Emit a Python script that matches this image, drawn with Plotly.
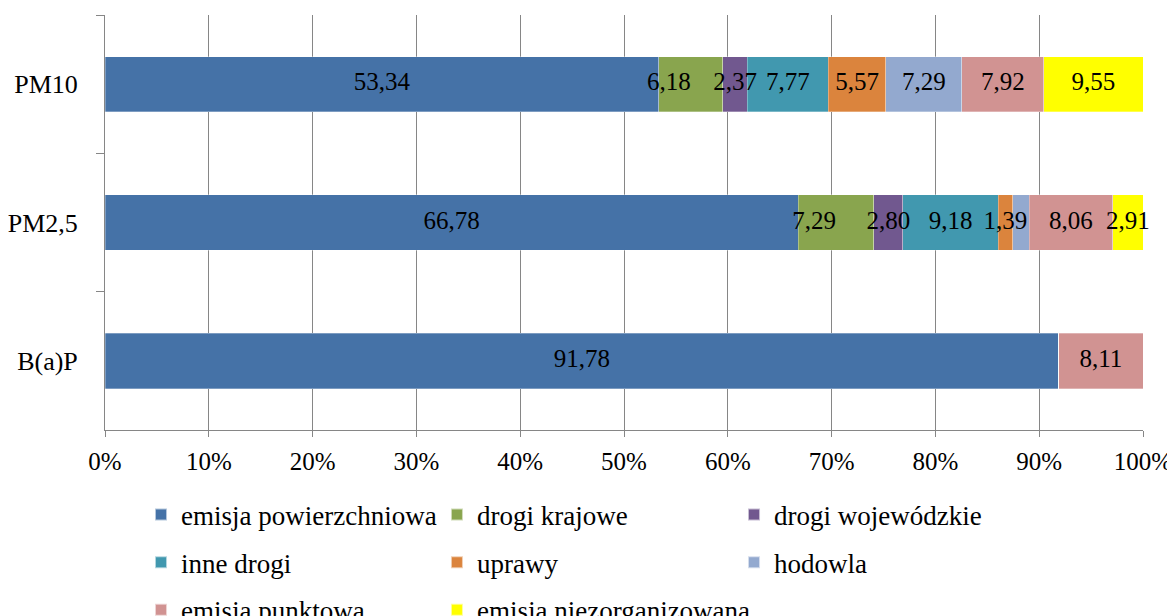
import plotly.graph_objects as go

categories = ["PM10", "PM2,5", "B(a)P"]
series_names = [
    "emisja powierzchniowa", "drogi krajowe", "drogi wojewódzkie", "inne drogi",
    "uprawy", "hodowla", "emisja punktowa", "emisja niezorganizowana",
]
# values per series for [PM10, PM2,5, B(a)P]
emisja_powierzchniowa = [53.34, 66.78, 91.78]
drogi_krajowe = [6.18, 7.29, 0.0]
drogi_wojewodzkie = [2.37, 2.80, 0.0]
inne_drogi = [7.77, 9.18, 0.0]
uprawy = [5.57, 1.39, 0.0]
hodowla = [7.29, 1.59, 0.0]
emisja_punktowa = [7.92, 8.06, 8.11]
emisja_niezorganizowana = [9.55, 2.91, 0.0]
# labels not shown in the original (series index, category index)
hidden_labels = {(5, 1)}
# series whose labels sit left of the segment centre in the original
left_label_series = {1}

series_values = [emisja_powierzchniowa, drogi_krajowe, drogi_wojewodzkie, inne_drogi,
                 uprawy, hodowla, emisja_punktowa, emisja_niezorganizowana]
colors = ["#4572A7", "#89A54E", "#71588F", "#4198AF",
          "#DB843D", "#93A9CF", "#D19392", "#FFFF00"]
legend_of = ["legend", "legend2", "legend3", "legend", "legend2", "legend3", "legend", "legend2"]

FONT = "Liberation Serif"

fig = go.Figure()
for i, (name, vals) in enumerate(zip(series_names, series_values)):
    fig.add_trace(go.Bar(
        y=categories, x=vals, name=name, orientation="h",
        marker=dict(color=colors[i], line=dict(color="rgba(255,255,255,0.6)", width=0.5)),
        legend=legend_of[i], legendgroup=name, hoverinfo="skip",
    ))

# data labels in each (percent-normalised) segment
lab_x, lab_y, lab_t, lab_pos = [], [], [], []
for j, cat in enumerate(categories):
    total = sum(s[j] for s in series_values)
    cum = 0.0
    for i, s in enumerate(series_values):
        v = s[j]
        if v > 0 and (i, j) not in hidden_labels:
            lab_x.append((cum + v / 2) / total * 100)
            lab_y.append(cat)
            lab_t.append(f"{v:.2f}".replace(".", ","))
            lab_pos.append("middle left" if i in left_label_series else "middle center")
        cum += v
fig.add_trace(go.Scatter(
    x=lab_x, y=lab_y, text=lab_t, mode="text", textposition=lab_pos,
    textfont=dict(family=FONT, size=25, color="black"), cliponaxis=False,
    showlegend=False, hoverinfo="skip",
))

grid = "#868686"
leg_common = dict(font=dict(family=FONT, size=27, color="black"), orientation="v",
                  yanchor="top", xanchor="left", tracegroupgap=9.5,
                  bgcolor="rgba(0,0,0,0)", itemsizing="constant")
leg_y = -0.1458
fig.update_layout(
    barmode="stack", barnorm="percent", bargap=0.6,
    width=1167, height=608,
    margin=dict(l=97, r=32, t=7, b=186, autoexpand=False),
    plot_bgcolor="white", paper_bgcolor="white",
    font=dict(family=FONT, size=25, color="black"),
    showlegend=True,
    legend=dict(x=0.0347, y=leg_y, **leg_common),
    legend2=dict(x=0.3198, y=leg_y, **leg_common),
    legend3=dict(x=0.606, y=leg_y, **leg_common),
    xaxis=dict(range=[0, 100], dtick=10, ticksuffix="%", showgrid=True, gridcolor=grid,
               gridwidth=1, showline=True, linecolor=grid, linewidth=1, ticks="outside",
               ticklen=6, tickcolor=grid, zeroline=False, fixedrange=True,
               ticklabelstandoff=3,
               tickfont=dict(family=FONT, size=25, color="black")),
    yaxis=dict(categoryorder="array", categoryarray=categories, autorange="reversed",
               showline=True, linecolor=grid, linewidth=1, ticks="outside", ticklen=8,
               tickcolor=grid, tickson="boundaries", showgrid=False,
               ticklabelstandoff=21,
               tickfont=dict(family=FONT, size=26, color="black")),
)

fig.write_html("out.html")
